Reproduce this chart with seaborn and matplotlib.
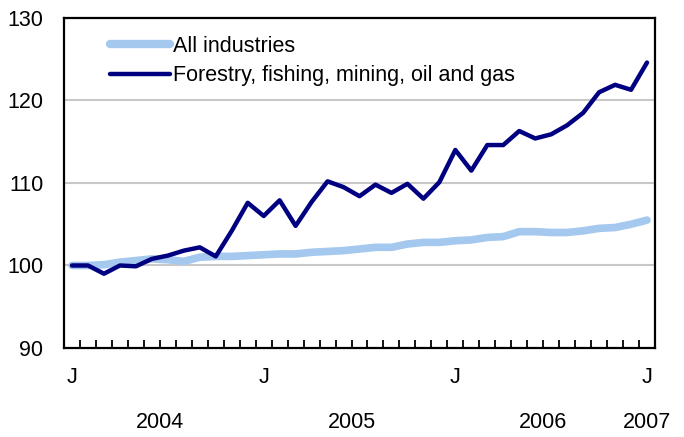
import seaborn as sns
import pandas as pd
import numpy as np
import matplotlib
matplotlib.use("Agg")
import matplotlib.pyplot as plt
import matplotlib.transforms as mtransforms

# monthly index, Jan 2004 = 100, Jan 2004 .. Jan 2007
all_industries = [100.0, 100.0, 100.1, 100.4, 100.6, 100.8, 100.7, 100.5, 101.0, 101.1,
                  101.1, 101.2, 101.3, 101.4, 101.4, 101.6, 101.7, 101.8, 102.0, 102.2,
                  102.2, 102.6, 102.8, 102.8, 103.0, 103.1, 103.4, 103.5, 104.1, 104.1,
                  104.0, 104.0, 104.2, 104.5, 104.6, 105.0, 105.5]
forestry = [100.0, 100.0, 99.0, 100.0, 99.9, 100.8, 101.2, 101.8, 102.2, 101.1,
            104.2, 107.6, 106.0, 107.9, 104.8, 107.7, 110.2, 109.5, 108.4, 109.8,
            108.8, 109.9, 108.1, 110.1, 114.0, 111.5, 114.6, 114.6, 116.3, 115.4,
            115.9, 117.0, 118.5, 121.0, 121.9, 121.3, 124.6]
series_names = ["All industries", "Forestry, fishing, mining, oil and gas"]
month_labels = ["J", "J", "J", "J"]
year_labels = ["2004", "2005", "2006", "2007"]
year_pos = [5.5, 17.5, 29.5, 36]

months = np.arange(len(forestry))
df = pd.DataFrame({"month": np.concatenate([months, months]),
                   "value": all_industries + forestry,
                   "series": [series_names[0]] * len(months) + [series_names[1]] * len(months)})

sns.set_style("white")
plt.rcParams["font.family"] = ["Liberation Sans", "DejaVu Sans"]
plt.rcParams["text.color"] = "black"
plt.rcParams["xtick.color"] = "black"
plt.rcParams["ytick.color"] = "black"
fs = 15.5

fig = plt.figure(figsize=(6.84, 4.37), dpi=100)
ax = fig.add_axes([0.0936, 0.2037, 0.864, 0.7551])

sns.lineplot(data=df, x="month", y="value", hue="series", ax=ax,
             palette=["#a4c8ee", "#000080"], legend=True)
ax.lines[0].set_linewidth(5.5)
ax.lines[1].set_linewidth(3.2)
for l in ax.lines:
    l.set_solid_capstyle("round")

ax.set_xlim(-0.5, 36.5)
ax.set_ylim(90, 130)
ax.set_yticks([90, 100, 110, 120, 130])
for y in [100, 110, 120]:
    ax.axhline(y, color="#c8c8c8", lw=1.5, zorder=0)

ax.set_xticks(np.arange(0.5, 36, 1))
ax.set_xticklabels([])
ax.tick_params(axis="x", which="major", bottom=True, direction="in", length=6,
               width=1.3, color="black")
ax.set_xticks([0, 12, 24, 36], minor=True)
ax.set_xticklabels(month_labels, minor=True, fontsize=fs)
ax.tick_params(axis="x", which="minor", bottom=True, length=0, pad=14)
ax.tick_params(axis="y", length=0, labelsize=fs, pad=15)
ax.set_xlabel("")
ax.set_ylabel("")

trans = mtransforms.blended_transform_factory(ax.transData, fig.transFigure)
for pos, lab in zip(year_pos, year_labels):
    ax.text(pos, 0.034, lab, transform=trans, ha="center", va="center", fontsize=fs)

for s in ax.spines.values():
    s.set_visible(True)
    s.set_color("black")
    s.set_linewidth(1.6)

leg = ax.legend(loc="upper left", bbox_to_anchor=(0.045, 1.005), frameon=False,
                fontsize=fs, handlelength=2.8, handletextpad=0.12, labelspacing=0.4)
leg.get_lines()[0].set_linewidth(6)
leg.get_lines()[1].set_linewidth(3.2)

fig.savefig("out.png", dpi=100)
